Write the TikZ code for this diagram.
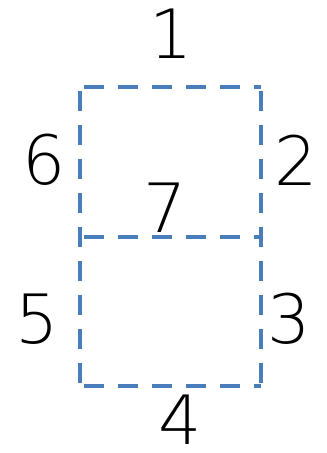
\documentclass[tikz,border=0pt]{standalone}
\usepackage{fontspec}
\setmainfont{DejaVu Sans ExtraLight}
\definecolor{dashblue}{RGB}{74,126,187}
\tikzset{
  boxline/.style={draw=dashblue, line width=3.2pt, dash pattern=on 20pt off 14pt, dash phase=-4pt},
  digit/.style={inner sep=0pt, anchor=center, font=\fontsize{68}{70}\selectfont, text=black}
}
\begin{document}
\begin{tikzpicture}[x=1pt,y=-1pt]
\useasboundingbox (0,0) rectangle (327,453);
% box edges
\coordinate (tl) at (80,87);
\coordinate (tr) at (261,87);
\coordinate (ml) at (80,237);
\coordinate (mr) at (261,237);
\coordinate (bl) at (80,386);
\coordinate (br) at (261,386);
\draw[boxline] (tl) -- (tr);
\draw[boxline] (ml) -- (mr);
\draw[boxline] (bl) -- (br);
\draw[boxline] (tl) -- (bl);
\draw[boxline] (tr) -- (br);
% digits
\node[digit] (n1) at (171,34) {1};
\node[digit] (n2) at (296,160) {2};
\node[digit] (n3) at (289,319) {3};
\node[digit] (n4) at (180,420) {4};
\node[digit] (n5) at (37,319) {5};
\node[digit] (n6) at (44,160) {6};
\node[digit] (n7) at (165,208) {7};
\end{tikzpicture}
\end{document}
